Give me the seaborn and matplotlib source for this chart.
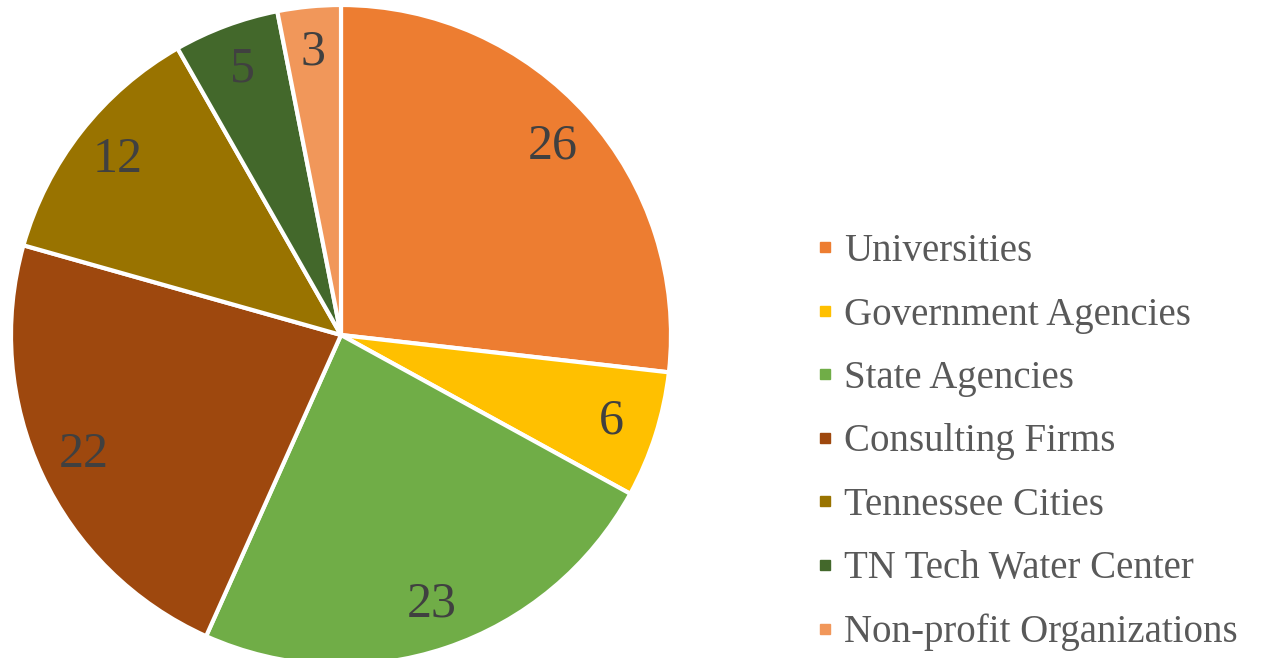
import matplotlib.pyplot as plt
from matplotlib.lines import Line2D
import seaborn as sns

categorias = ['Universities', 'Government Agencies', 'State Agencies',
              'Consulting Firms', 'Tennessee Cities', 'TN Tech Water Center',
              'Non-profit Organizations']
valores = [26, 6, 23, 22, 12, 5, 3]
cores = ['#ED7D31', '#FFC000', '#70AD47', '#9E480E', '#997300', '#43682B', '#F1975A']

sns.set_theme(style='white')
plt.rcParams['font.family'] = ['Liberation Serif', 'DejaVu Serif']

paleta = sns.color_palette(cores)
total = sum(valores)

fig = plt.figure(figsize=(12.61, 6.58), dpi=100)
# eixo do grafico de pizza, posicionado em pixels
ax = fig.add_axes([11 / 1261, -7 / 658, 660 / 1261, 660 / 658])

wedges, textos, autotextos = ax.pie(
    valores,
    colors=paleta,
    startangle=90,
    counterclock=False,
    autopct=lambda p: f'{round(p * total / 100):d}',
    pctdistance=0.86,
    wedgeprops={'edgecolor': 'white', 'linewidth': 3},
    textprops={'fontsize': 36, 'color': '#404040'},
)
ax.set_xlim(-1, 1)
ax.set_ylim(-1, 1)
ax.set_aspect('equal')

# legenda com marcadores quadrados
handles = [Line2D([0], [0], marker='s', linestyle='', markersize=7,
                  markerfacecolor=c, markeredgecolor=c) for c in paleta]
fig.legend(
    handles, categorias,
    loc='center left',
    bbox_to_anchor=(0.645, 0.328),
    frameon=False,
    fontsize=28,
    labelcolor='#595959',
    handlelength=0.6,
    handletextpad=0.2,
    labelspacing=0.68,
    borderpad=0,
    borderaxespad=0,
)

fig.savefig('out.png', dpi=100)
